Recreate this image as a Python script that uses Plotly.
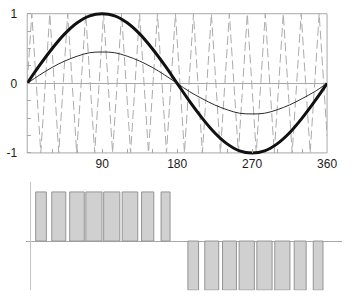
import plotly.graph_objects as go

# ---------------- data ----------------
angle_deg = [0, 15, 30, 45, 60, 75, 90, 105, 120, 135, 150, 165, 180,
             195, 210, 225, 240, 255, 270, 285, 300, 315, 330, 345, 360]
modulating = [0, 0.26, 0.5, 0.71, 0.87, 0.97, 1.0, 0.97, 0.87, 0.71, 0.5, 0.26, 0,
              -0.26, -0.5, -0.71, -0.87, -0.97, -1.0, -0.97, -0.87, -0.71, -0.5, -0.26, 0]
fundamental = [0, 0.12, 0.23, 0.32, 0.39, 0.44, 0.45, 0.44, 0.39, 0.32, 0.23, 0.12, 0,
               -0.12, -0.22, -0.31, -0.38, -0.43, -0.44, -0.43, -0.38, -0.31, -0.22, -0.12, 0]

carrier_x = [0, 5.5, 16.3, 27.1, 37.9, 48.6, 59.4, 70.2, 81.0, 91.7, 102.5, 113.3,
             124.1, 134.9, 145.6, 156.4, 167.2, 178.0, 188.8, 199.6, 210.3, 221.1,
             231.9, 242.7, 253.5, 264.2, 275.0, 285.8, 296.6, 307.4, 318.1, 328.9,
             339.7, 350.5, 360]
carrier_y = [0, 1, -1, 1, -1, 1, -1, 1, -1, 1, -1, 1,
             -1, 1, -1, 1, -1, 1, -1, 1, -1, 1,
             -1, 1, -1, 1, -1, 1, -1, 1, -1, 1,
             -1, 1, -0.76]

pulse_start = [10.2, 29.5, 51.0, 70.4, 91.8, 114.0, 137.3, 160.7,
               192.9, 213.2, 234.5, 254.4, 275.7, 297.2, 320.5, 343.4]
pulse_end = [23.0, 46.3, 68.5, 89.8, 111.2, 132.7, 152.0, 171.5,
             205.7, 229.9, 251.2, 272.7, 294.0, 315.4, 334.9, 355.1]
pulse_level = [1, 1, 1, 1, 1, 1, 1, 1,
               -1, -1, -1, -1, -1, -1, -1, -1]

x_tick_vals = [30, 60, 90, 120, 150, 180, 210, 240, 270, 300, 330, 360]
x_tick_text = ["", "", "90", "", "", "180", "", "", "270", "", "", "360"]
y_tick_vals = [-1, -0.75, -0.5, -0.25, 0, 0.25, 0.5, 0.75, 1]
y_tick_text = ["-1", "", "", "", "0", "", "", "", "1"]

# ---------------- geometry ----------------
W, H = 357, 300
x_left_px, x_right_px = 28, 336.5          # x = 0 .. 360 (top)
y_top_px, y_bot_px = 10, 153               # y = 1 .. -1 (top)
pad = 0.04
unit = (y_bot_px - y_top_px) / 2.0
top_dom = [(H - (y_bot_px + pad * unit)) / H, (H - (y_top_px - pad * unit)) / H]
xdom = [x_left_px / W, x_right_px / W]
px_per_deg = (x_right_px - x_left_px) / 360.0

# bottom panel
b_xmin, b_xmax = -1, 378
b_xdom = [(x_left_px + b_xmin * px_per_deg) / W, (x_left_px + b_xmax * px_per_deg) / W]
b_ydom = [(H - 294) / H, (H - 183) / H]

font = dict(family="Liberation Sans, Arial, sans-serif", size=12, color="#1a1a1a")
grey = "#a8a8a8"

fig = go.Figure()

fig.add_trace(go.Scatter(x=carrier_x, y=carrier_y, mode="lines",
                         line=dict(color="#ababab", width=1, dash="9px,4px"),
                         xaxis="x", yaxis="y", hoverinfo="skip"))
fig.add_trace(go.Scatter(x=angle_deg, y=fundamental, mode="lines",
                         line=dict(color="#2a2a2a", width=1, shape="spline"),
                         xaxis="x", yaxis="y"))
fig.add_trace(go.Scatter(x=angle_deg, y=modulating, mode="lines",
                         line=dict(color="#111", width=3, shape="spline"),
                         xaxis="x", yaxis="y"))

centers = [(a + b) / 2 for a, b in zip(pulse_start, pulse_end)]
widths = [b - a for a, b in zip(pulse_start, pulse_end)]
fig.add_trace(go.Bar(x=centers, y=pulse_level, width=widths,
                     marker=dict(color="#d0d0d0", line=dict(color="#949494", width=1)),
                     xaxis="x2", yaxis="y2", cliponaxis=False))

# frame of the top panel
fig.add_shape(type="rect", xref="paper", yref="paper",
              x0=xdom[0], x1=xdom[1],
              y0=(H - y_bot_px) / H, y1=(H - y_top_px) / H,
              line=dict(color=grey, width=1), layer="below")

fig.update_layout(
    width=W, height=H,
    margin=dict(l=0, r=0, t=0, b=0),
    paper_bgcolor="white", plot_bgcolor="white",
    showlegend=False, font=font,
    xaxis=dict(domain=xdom, range=[0, 360], anchor="free", position=(H - y_bot_px) / H,
               tickmode="array", tickvals=x_tick_vals, ticktext=x_tick_text,
               ticks="inside", ticklen=4, tickcolor=grey, tickwidth=1,
               showgrid=False, zeroline=False, showline=False,
               ticklabelstandoff=2, tickfont=font),
    yaxis=dict(domain=top_dom, range=[-1 - pad, 1 + pad], anchor="x",
               tickmode="array", tickvals=y_tick_vals, ticktext=y_tick_text,
               ticks="inside", ticklen=4, tickcolor=grey, tickwidth=1,
               showgrid=False, zeroline=True, zerolinecolor=grey, zerolinewidth=1,
               showline=False, ticklabelstandoff=9, tickfont=font),
    xaxis2=dict(domain=b_xdom, range=[b_xmin, b_xmax], anchor="y2", visible=False),
    yaxis2=dict(domain=b_ydom, range=[-1, 1.2], anchor="free", position=31 / W,
                showticklabels=False, ticks="", showgrid=False,
                showline=True, linecolor="#c4c4c4", linewidth=1,
                zeroline=True, zerolinecolor=grey, zerolinewidth=1),
)

fig.write_html("out.html")
